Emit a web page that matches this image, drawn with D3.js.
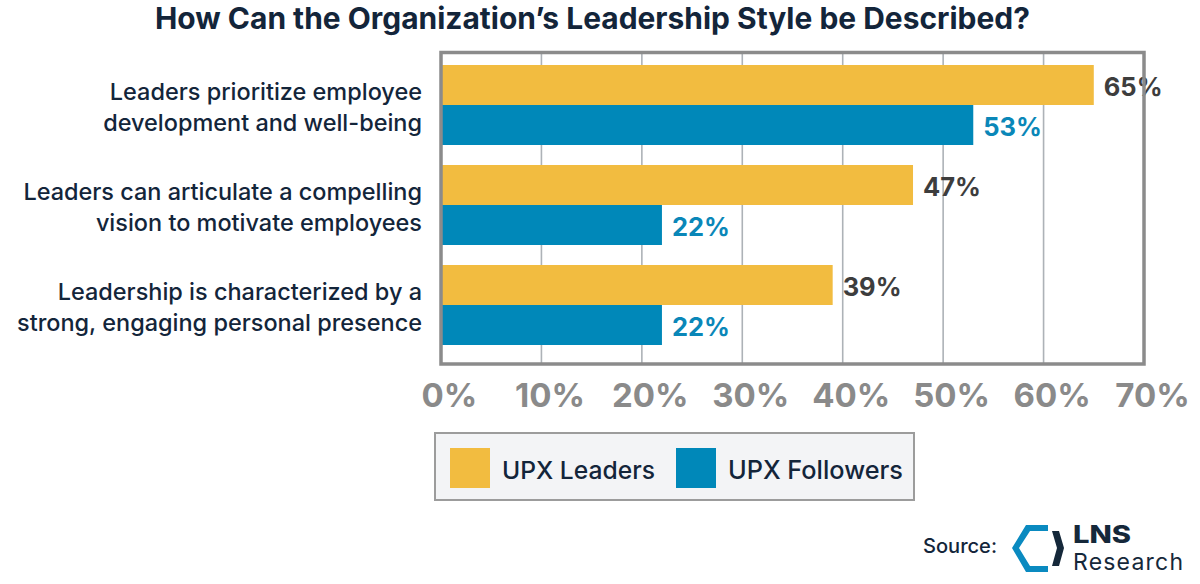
<!DOCTYPE html>
<html><head><meta charset="utf-8">
<script src="https://cdn.jsdelivr.net/npm/d3@7"></script>
<style>html,body{margin:0;padding:0;background:#fff;}svg{display:block;}</style>
</head><body>
<svg id="chart" width="1200" height="584"></svg>
<script>
const title = "How Can the Organization\u2019s Leadership Style be Described?";
const categories = [
  ["Leaders prioritize employee", "development and well-being"],
  ["Leaders can articulate a compelling", "vision to motivate employees"],
  ["Leadership is characterized by a", "strong, engaging personal presence"]
];
const seriesNames = ["UPX Leaders", "UPX Followers"];
const leaders = [65, 47, 39];
const followers = [53, 22, 22];
const tickValues = [0, 10, 20, 30, 40, 50, 60, 70];
const tickLabels = ["0%", "10%", "20%", "30%", "40%", "50%", "60%", "70%"];

const FONT = "Inter, 'Noto Sans', sans-serif";
const NAVY = "#13253a";
const YELLOW = "#F2BC40";
const BLUE = "#0088B9";
const colors = [YELLOW, BLUE];
const labelColors = ["#3d3d3d", "#0a87b8"];

const svg = d3.select("#chart");

function fit(sel, targetW) {
  sel.attr("font-size", 100);
  const w = sel.node().getComputedTextLength();
  sel.attr("font-size", 100 * targetW / w);
}

const x = d3.scaleLinear().domain([0, 70]).range([441, 1144]);
const catIdx = categories.map((d, i) => i);
const y = d3.scaleBand().domain(catIdx).range([55, 355]).paddingInner(0.2).paddingOuter(0.1);
const ySub = d3.scaleBand().domain([0, 1]).range([0, y.bandwidth()]);

// title
const t = svg.append("text").attr("x", 155).attr("y", 29).text(title)
  .attr("font-family", FONT).attr("font-weight", 700).attr("fill", NAVY);
fit(t, 875);

// gridlines
svg.append("g").selectAll("line").data(tickValues.slice(1, -1)).join("line")
  .attr("x1", d => x(d)).attr("x2", d => x(d))
  .attr("y1", 52).attr("y2", 363)
  .attr("stroke", "#adb2b7").attr("stroke-width", 1.6);

// bars
const data = catIdx.map(i => [leaders[i], followers[i]]);
const groups = svg.append("g").selectAll("g").data(data).join("g")
  .attr("transform", (d, i) => `translate(0,${y(i)})`);
groups.selectAll("rect").data(d => d).join("rect")
  .attr("x", x(0)).attr("y", (d, j) => ySub(j))
  .attr("width", d => x(d) - x(0)).attr("height", ySub.bandwidth())
  .attr("fill", (d, j) => colors[j]);
groups.selectAll("text").data(d => d).join("text")
  .attr("x", d => x(d) + 10)
  .attr("y", (d, j) => ySub(j) + ySub.bandwidth() / 2 + 11)
  .attr("font-family", FONT).attr("font-weight", 700).attr("font-size", 25.5)
  .attr("fill", (d, j) => labelColors[j])
  .text(d => d + "%");

// frame
svg.append("rect").attr("x", 441).attr("y", 52.5).attr("width", 703).attr("height", 311.5)
  .attr("fill", "none").attr("stroke", "#8b8b8b").attr("stroke-width", 3.5);

// category labels
const cl = svg.append("g").selectAll("text").data(categories).join("text")
  .attr("text-anchor", "end").attr("font-family", FONT).attr("fill", NAVY)
  .attr("font-weight", 500);
cl.each(function(lines, i) {
  const c = y(i) + y.bandwidth() / 2;
  d3.select(this).selectAll("tspan").data(lines).join("tspan")
    .attr("x", 422).attr("y", (d, k) => c - 5 + k * 31).text(d => d);
});
{
  const probe = svg.append("text").attr("font-family", FONT).attr("font-weight", 500).text(categories[2][1]);
  fit(probe, 405);
  const fs = probe.attr("font-size");
  probe.remove();
  cl.attr("font-size", fs);
}

// x axis tick labels
const axisG = svg.append("g").attr("transform", "translate(0,364)")
  .call(d3.axisBottom(x).tickValues(tickValues).tickFormat((d, i) => tickLabels[i]).tickSize(0).tickPadding(0));
axisG.select(".domain").remove();
axisG.selectAll("text").attr("font-family", FONT).attr("font-weight", 700)
  .attr("font-size", 33).attr("fill", "#8a8a8a").attr("dy", 0).attr("y", 43).attr("dx", 8);

// legend
const lg = svg.append("g");
lg.append("rect").attr("x", 435).attr("y", 433).attr("width", 479).attr("height", 67)
  .attr("fill", "#f3f4f6").attr("stroke", "#9c9c9c").attr("stroke-width", 2);
const legX = [450, 676];
const legTW = [153, 175];
seriesNames.forEach((s, i) => {
  lg.append("rect").attr("x", legX[i]).attr("y", 448).attr("width", 40).attr("height", 40).attr("fill", colors[i]);
  const tt = lg.append("text").attr("x", legX[i] + 52).attr("y", 479).text(s)
    .attr("font-family", FONT).attr("font-weight", 500).attr("fill", NAVY);
  fit(tt, legTW[i]);
});

// source + logo
const src = svg.append("text").attr("x", 923).attr("y", 553).text("Source:")
  .attr("font-family", FONT).attr("font-weight", 500).attr("fill", NAVY);
fit(src, 74);
svg.append("polygon")
  .attr("points", "1048,525 1026,525 1012,548 1026,572 1048,572 1048,566 1030,566 1019,548 1030,531 1048,531")
  .attr("fill", "#0a8ac0");
svg.append("polygon")
  .attr("points", "1052,531 1059,531 1064,548 1059,566 1052,566 1057,548")
  .attr("fill", "#15283a");
svg.append("text").attr("x", 1073).attr("y", 543).text("LNS")
  .attr("font-family", FONT).attr("font-weight", 800).attr("font-size", 24)
  .attr("textLength", 58).attr("lengthAdjust", "spacingAndGlyphs")
  .attr("fill", "#15283a");
svg.append("text").attr("x", 1073).attr("y", 570).text("Research")
  .attr("font-family", FONT).attr("font-weight", 400).attr("font-size", 23)
  .attr("textLength", 110).attr("lengthAdjust", "spacing")
  .attr("fill", "#15283a");
</script>
</body></html>
